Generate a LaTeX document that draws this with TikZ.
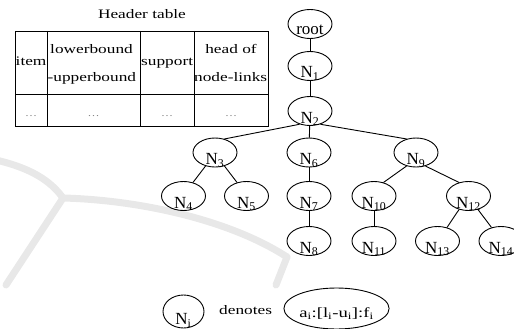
\documentclass[tikz,border=0pt]{standalone}
\usepackage{fontspec}
\setmainfont{Liberation Serif}
\newfontfamily\widefont{Liberation Serif}[FakeStretch=1.33]
\usetikzlibrary{shapes.geometric}

% label set low inside its ellipse, baseline #1 below the centre
\newcommand\lowtext[2]{\smash{\raisebox{-#1}{#2}}}

\tikzset{
  treenode/.style={ellipse, draw, line width=0.9pt, minimum width=44pt,
    minimum height=29pt, inner sep=0pt, font=\fontsize{17}{20}\selectfont},
  treeedge/.style={line width=0.9pt},
  tabline/.style={line width=0.9pt},
  tabtext/.style={inner sep=0pt, font=\widefont\fontsize{13}{15}\selectfont},
  tabdots/.style={inner sep=0pt, text=black!55, font=\widefont\fontsize{9}{11}\selectfont},
  faint/.style={draw=black!9, line width=7pt, line cap=round},
}

\begin{document}
\begin{tikzpicture}[x=1pt, y=-1pt]
\useasboundingbox (0,0) rectangle (514,329);
\clip (0,0) rectangle (514,329);

% ---- light background strokes ----
\draw[faint] (-4,160) .. controls (30,168) and (50,180) .. (63,198);
\draw[faint] (63,198) -- (6,285);
\draw[faint] (63,198) .. controls (140,200) and (230,220) .. (287,257);
\draw[faint] (287,257) -- (276,285);

% ---- header table ----
\node[tabtext, anchor=base] (title) at (142,18.5) {Header table};
\draw[tabline] (15,31) rectangle (268,126);
\draw[tabline] (15,94) -- (268,94);
\draw[tabline] (47,31) -- (47,126);
\draw[tabline] (140,31) -- (140,126);
\draw[tabline] (194,31) -- (194,126);

\node[tabtext, anchor=base west] (hitem) at (15.5,65.7) {item};
\node[tabtext, anchor=base west] (hlow) at (50,53.3) {lowerbound};
\node[tabtext, anchor=base west] (hup) at (47.5,81.7) {-upperbound};
\node[tabtext, anchor=base west] (hsup) at (141,65.7) {support};
\node[tabtext, anchor=base] (hhead) at (231,53.3) {head of};
\node[tabtext, anchor=base west] (hlinks) at (194,81.7) {node-links};

\node[tabdots, anchor=base] (d1) at (31,116.7) {\ldots};
\node[tabdots, anchor=base] (d2) at (93.5,116.7) {\ldots};
\node[tabdots, anchor=base] (d3) at (167,116.7) {\ldots};
\node[tabdots, anchor=base] (d4) at (231,116.7) {\ldots};

% ---- tree ----
\node[treenode] (root) at (310,24)  {\lowtext{11pt}{root}};
\node[treenode] (n1)  at (310,66)    {\lowtext{12pt}{N\textsubscript{1}}};
\node[treenode] (n2)  at (310,111)   {\lowtext{12pt}{N\textsubscript{2}}};
\node[treenode] (n3)  at (215,152.5) {\lowtext{12pt}{N\textsubscript{3}}};
\node[treenode] (n6)  at (309,152.5) {\lowtext{12pt}{N\textsubscript{6}}};
\node[treenode] (n9)  at (416,152.5) {\lowtext{12pt}{N\textsubscript{9}}};
\node[treenode] (n4)  at (183.5,196) {\lowtext{12pt}{N\textsubscript{4}}};
\node[treenode] (n5)  at (246.5,196) {\lowtext{12pt}{N\textsubscript{5}}};
\node[treenode] (n7)  at (309,196)   {\lowtext{12pt}{N\textsubscript{7}}};
\node[treenode] (n10) at (374,196)   {\lowtext{12pt}{N\textsubscript{10}}};
\node[treenode] (n12) at (468.5,196) {\lowtext{12pt}{N\textsubscript{12}}};
\node[treenode] (n8)  at (309,241)   {\lowtext{12pt}{N\textsubscript{8}}};
\node[treenode] (n11) at (374,241)   {\lowtext{12pt}{N\textsubscript{11}}};
\node[treenode] (n13) at (437.5,241) {\lowtext{12pt}{N\textsubscript{13}}};
\node[treenode] (n14) at (501,241)   {\lowtext{12pt}{N\textsubscript{14}}};

\draw[treeedge] (root) -- (n1);
\draw[treeedge] (n1) -- (n2);
\draw[treeedge] (n2.232) -- (n3.55);
\draw[treeedge] (n2) -- (n6);
\draw[treeedge] (n2.308) -- (n9.125);
\draw[treeedge] (n3.235) -- (n4.55);
\draw[treeedge] (n3.305) -- (n5.125);
\draw[treeedge] (n6) -- (n7);
\draw[treeedge] (n7) -- (n8);
\draw[treeedge] (n9.235) -- (n10.55);
\draw[treeedge] (n9.305) -- (n12.125);
\draw[treeedge] (n10) -- (n11);
\draw[treeedge] (n12.235) -- (n13.55);
\draw[treeedge] (n12.305) -- (n14.125);

% ---- legend ----
\node[treenode, minimum width=41pt, minimum height=33pt] (legi) at (183.5,311.5)
  {\lowtext{13pt}{N\textsubscript{i}}};
\node[tabtext, anchor=base west] (denotes) at (219,314) {denotes};
\node[treenode, minimum width=97pt, minimum height=41pt,
      font=\widefont\fontsize{14}{16}\selectfont] (legattr) at (336.5,308.5)
  {\lowtext{8.5pt}{a\textsubscript{i}:[l\textsubscript{i}-u\textsubscript{i}]:f\textsubscript{i}}};
\end{tikzpicture}
\end{document}
